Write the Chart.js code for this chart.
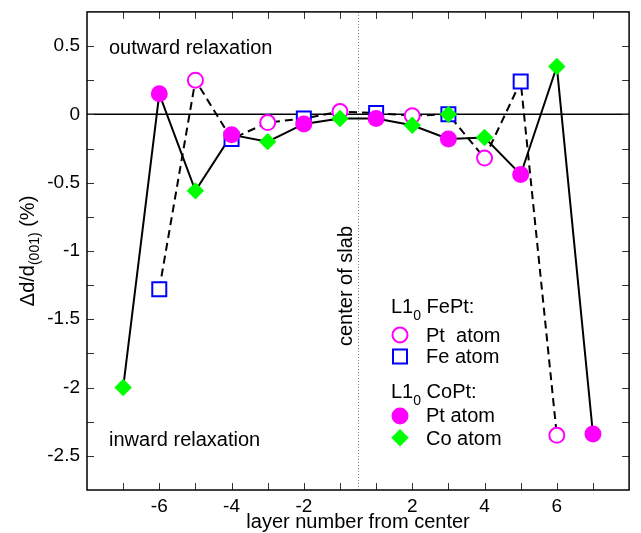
<!DOCTYPE html>
<html>
<head>
<meta charset="utf-8">
<script src="https://cdn.jsdelivr.net/npm/chart.js@4.4.1/dist/chart.umd.min.js"></script>
<style>
  body { margin: 0; background: #fff; }
  #wrap { width: 641px; height: 533px; }
</style>
</head>
<body>
<div id="wrap"><canvas id="chart" width="641" height="533"></canvas></div>
<script>
// layer numbers (there is no layer 0, the slab center sits between -1 and 1)
const layers = [-7, -6, -5, -4, -3, -2, -1, 1, 2, 3, 4, 5, 6, 7];
const xTickLabels = [-6, -4, -2, 2, 4, 6];
const yTickLabels = [0.5, 0, -0.5, -1, -1.5, -2, -2.5];

// L1_0 FePt
const fePtPtLayers = [-5, -3, -1, 2, 4, 6];
const fePtPtValues = [0.25, -0.06, 0.02, -0.01, -0.32, -2.35];
const fePtFeLayers = [-6, -4, -2, 1, 3, 5];
const fePtFeValues = [-1.28, -0.18, -0.03, 0.01, 0.0, 0.24];

// L1_0 CoPt
const coPtPtLayers = [-6, -4, -2, 1, 3, 5, 7];
const coPtPtValues = [0.15, -0.15, -0.07, -0.03, -0.18, -0.44, -2.34];
const coPtCoLayers = [-7, -5, -3, -1, 2, 4, 6];
const coPtCoValues = [-2.0, -0.56, -0.2, -0.03, -0.08, -0.17, 0.35];
// extra Co marker that is not on the line
const coPtCoExtraLayers = [3];
const coPtCoExtraValues = [0.0];

const FONT = '"Liberation Sans", Arial, Helvetica, sans-serif';

// axis position of a layer (skip the missing 0)
function pos(l) { return l < 0 ? l : l - 1; }
function layerAt(p) { return p < 0 ? p : p + 1; }

function pts(ls, vs) {
  return ls.map((l, i) => ({ x: pos(l), y: vs[i] }));
}
function joined(aL, aV, bL, bV) {
  return pts(aL, aV).concat(pts(bL, bV)).sort((p, q) => p.x - q.x);
}

const fePtLine = joined(fePtPtLayers, fePtPtValues, fePtFeLayers, fePtFeValues);
const coPtLine = joined(coPtPtLayers, coPtPtValues, coPtCoLayers, coPtCoValues);

const MAGENTA = '#ff00ff';
const BLUE = '#0000ff';
const GREEN = '#00ff00';

function partsWidth(ctx, parts) {
  let w = 0;
  parts.forEach(p => { ctx.font = p[1] + 'px ' + FONT; w += ctx.measureText(p[0]).width; });
  return w;
}
// parts: [text, size, dy]
function drawParts(ctx, x, y, parts) {
  let cx = x;
  parts.forEach(p => {
    ctx.font = p[1] + 'px ' + FONT;
    ctx.fillText(p[0], cx, y + p[2]);
    cx += ctx.measureText(p[0]).width;
  });
}

const decorations = {
  id: 'decorations',
  beforeDatasetsDraw(chart) {
    const { ctx, chartArea: a, scales: { x, y } } = chart;
    ctx.save();
    // slab center
    const cx = x.getPixelForValue(-0.5);
    ctx.strokeStyle = '#777';
    ctx.lineWidth = 1;
    ctx.setLineDash([1, 2]);
    ctx.beginPath();
    ctx.moveTo(Math.round(cx) + 0.5, a.top);
    ctx.lineTo(Math.round(cx) + 0.5, a.bottom);
    ctx.stroke();
    ctx.setLineDash([]);
    // zero line
    const y0 = y.getPixelForValue(0);
    ctx.strokeStyle = '#000';
    ctx.lineWidth = 1.5;
    ctx.beginPath();
    ctx.moveTo(a.left, y0);
    ctx.lineTo(a.right, y0);
    ctx.stroke();

    ctx.fillStyle = '#000';
    ctx.font = '20px ' + FONT;
    ctx.textAlign = 'left';
    ctx.textBaseline = 'alphabetic';
    ctx.fillText('outward relaxation', 109, 54);
    ctx.fillText('inward relaxation', 109, 446);

    ctx.save();
    ctx.translate(352, 286);
    ctx.rotate(-Math.PI / 2);
    ctx.textAlign = 'center';
    ctx.fillText('center of slab', 0, 0);
    ctx.restore();
    ctx.restore();
  },
  afterDraw(chart) {
    const { ctx, chartArea: a, scales: { x, y } } = chart;
    ctx.save();
    // ticks, inward on all four sides
    ctx.strokeStyle = '#333';
    ctx.lineWidth = 1;
    const tl = 7;
    ctx.beginPath();
    layers.forEach(l => {
      const px = Math.round(x.getPixelForValue(pos(l))) + 0.5;
      ctx.moveTo(px, a.bottom); ctx.lineTo(px, a.bottom - tl);
      ctx.moveTo(px, a.top); ctx.lineTo(px, a.top + tl);
    });
    for (let v = -2.5; v <= 0.5001; v += 0.25) {
      const py = Math.round(y.getPixelForValue(v)) + 0.5;
      ctx.moveTo(a.left, py); ctx.lineTo(a.left + tl, py);
      ctx.moveTo(a.right, py); ctx.lineTo(a.right - tl, py);
    }
    ctx.stroke();
    // frame
    ctx.strokeStyle = '#000';
    ctx.lineWidth = 1.5;
    ctx.strokeRect(a.left, a.top, a.right - a.left, a.bottom - a.top);

    ctx.fillStyle = '#000';
    ctx.textBaseline = 'alphabetic';
    // x title
    ctx.font = '20px ' + FONT;
    ctx.textAlign = 'center';
    ctx.fillText('layer number from center', (a.left + a.right) / 2, 528);

    // y title with subscript
    ctx.textAlign = 'left';
    const yParts = [['\u0394d/d', 20, 0], ['(001)', 14, 5], [' (%)', 20, 0]];
    const w = partsWidth(ctx, yParts);
    ctx.save();
    ctx.translate(34, (a.top + a.bottom) / 2);
    ctx.rotate(-Math.PI / 2);
    drawParts(ctx, -w / 2, 0, yParts);
    ctx.restore();

    // legend
    drawParts(ctx, 391, 313, [['L1', 20, 0], ['0', 14, 7], [' FePt:', 20, 0]]);
    drawParts(ctx, 391, 398, [['L1', 20, 0], ['0', 14, 7], [' CoPt:', 20, 0]]);
    ctx.font = '20px ' + FONT;
    ctx.fillText('Pt  atom', 426, 342);
    ctx.fillText('Fe atom', 426, 363);
    ctx.fillText('Pt atom', 426, 422);
    ctx.fillText('Co atom', 426, 445);

    ctx.lineWidth = 2;
    ctx.strokeStyle = MAGENTA;
    ctx.fillStyle = '#fff';
    ctx.beginPath(); ctx.arc(400, 335, 7.5, 0, Math.PI * 2); ctx.fill(); ctx.stroke();
    ctx.strokeStyle = BLUE;
    ctx.strokeRect(393, 349.5, 14, 14);
    ctx.fillStyle = MAGENTA;
    ctx.beginPath(); ctx.arc(400, 416, 8.5, 0, Math.PI * 2); ctx.fill();
    ctx.fillStyle = GREEN;
    ctx.beginPath();
    ctx.moveTo(400, 429); ctx.lineTo(408.7, 437.7); ctx.lineTo(400, 446.4); ctx.lineTo(391.3, 437.7);
    ctx.closePath(); ctx.fill();
    ctx.restore();
  }
};

new Chart(document.getElementById('chart'), {
  type: 'scatter',
  data: {
    datasets: [
      {
        label: 'FePt',
        data: fePtLine,
        showLine: true,
        borderColor: '#000',
        borderWidth: 2,
        borderDash: [8, 5],
        pointRadius: 0,
        order: 10
      },
      {
        label: 'CoPt',
        data: coPtLine,
        showLine: true,
        borderColor: '#000',
        borderWidth: 2,
        pointRadius: 0,
        order: 9
      },
      {
        label: 'Pt atom (FePt)',
        data: pts(fePtPtLayers, fePtPtValues),
        pointStyle: 'circle',
        pointRadius: 7.5,
        borderWidth: 2,
        borderColor: MAGENTA,
        backgroundColor: '#fff',
        order: 6
      },
      {
        label: 'Fe atom',
        data: pts(fePtFeLayers, fePtFeValues),
        pointStyle: 'rect',
        pointRadius: 9.9,
        borderWidth: 2,
        borderColor: BLUE,
        backgroundColor: '#fff',
        order: 5
      },
      {
        label: 'Pt atom (CoPt)',
        data: pts(coPtPtLayers, coPtPtValues),
        pointStyle: 'circle',
        pointRadius: 8.5,
        borderWidth: 0,
        borderColor: MAGENTA,
        backgroundColor: MAGENTA,
        order: 2
      },
      {
        label: 'Co atom',
        data: pts(coPtCoLayers, coPtCoValues).concat(pts(coPtCoExtraLayers, coPtCoExtraValues)),
        pointStyle: 'rectRot',
        pointRadius: 8.7,
        borderWidth: 0,
        borderColor: GREEN,
        backgroundColor: GREEN,
        order: 1
      }
    ]
  },
  options: {
    responsive: false,
    animation: false,
    layout: { padding: { top: 9, right: 9, left: 0, bottom: 0 } },
    plugins: { legend: { display: false }, tooltip: { enabled: false } },
    scales: {
      x: {
        type: 'linear',
        min: -8,
        max: 7,
        grid: { display: false, drawTicks: false },
        border: { display: false },
        afterFit(s) { s.height = 43; s.paddingLeft = 0; s.paddingRight = 0; },
        afterBuildTicks(s) { s.ticks = layers.map(l => ({ value: pos(l) })); },
        ticks: {
          autoSkip: false,
          maxRotation: 0,
          padding: 5,
          color: '#000',
          font: { family: FONT, size: 19 },
          callback: v => {
            const l = layerAt(v);
            return xTickLabels.includes(l) ? String(l) : '';
          }
        }
      },
      y: {
        min: -2.75,
        max: 0.75,
        grid: { display: false, drawTicks: false },
        border: { display: false },
        afterFit(s) { s.width = 87; s.paddingTop = 0; s.paddingBottom = 0; },
        afterBuildTicks(s) { s.ticks = yTickLabels.map(v => ({ value: v })); },
        ticks: {
          autoSkip: false,
          padding: 7,
          color: '#000',
          font: { family: FONT, size: 19 },
          callback: v => String(v)
        }
      }
    }
  },
  plugins: [decorations]
});
</script>
</body>
</html>
